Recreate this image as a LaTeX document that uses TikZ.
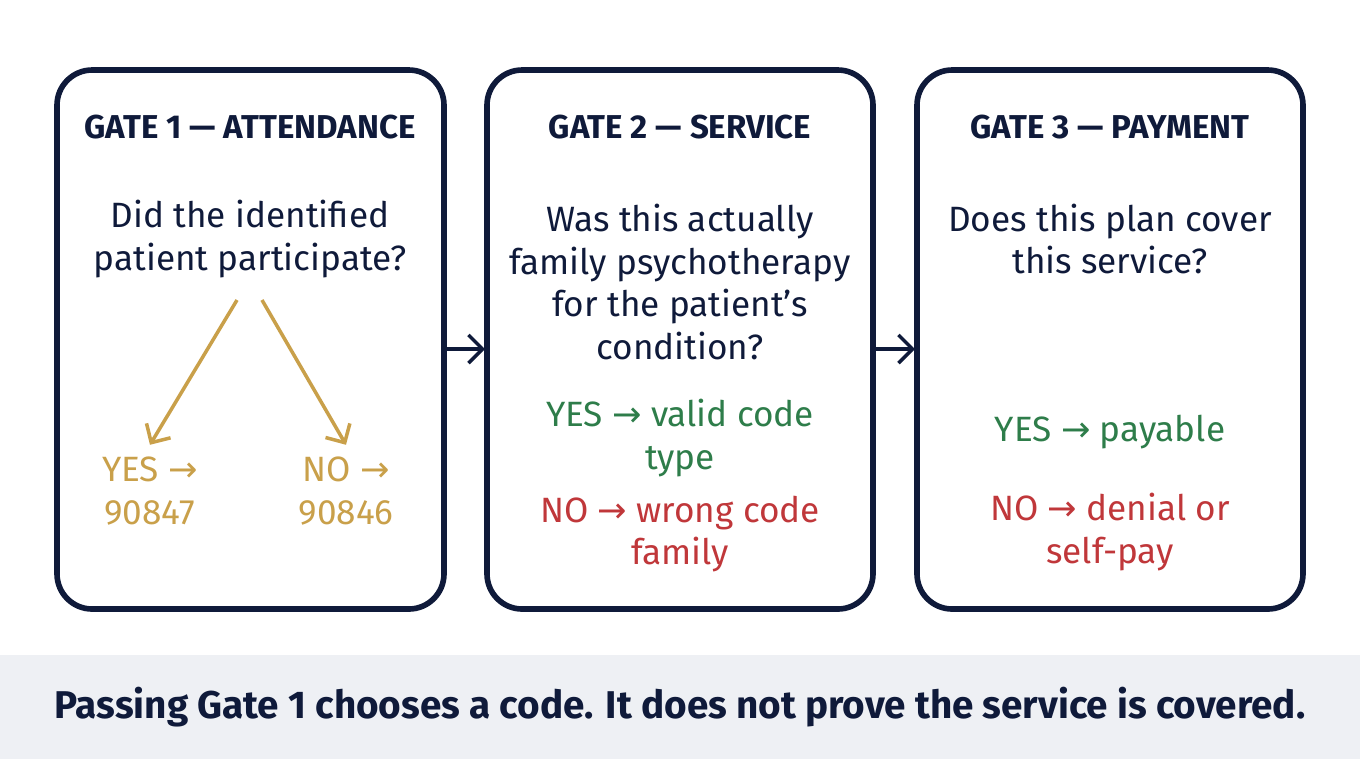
\documentclass[tikz,border=0pt]{standalone}
\usepackage{fontspec}
\setmainfont{Fira Sans}
\newfontfamily\arrowfont{DejaVu Sans}
\newcommand*{\toarrow}{{\arrowfont →}}
\usetikzlibrary{arrows.meta, positioning}
\definecolor{navy}{HTML}{0F1A3A}
\definecolor{gold}{HTML}{C9A04A}
\definecolor{okgreen}{HTML}{2E7D4A}
\definecolor{badred}{HTML}{C0373A}
\definecolor{band}{HTML}{EEF0F4}
\tikzstyle{gatebox} = [draw=navy, line width=1.6pt, rounded corners=10pt, fill=white]
\tikzstyle{title} = [font=\fontsize{9.4}{11}\selectfont\bfseries, text=navy]
\tikzstyle{question} = [font=\fontsize{10}{12.2}\selectfont, text=navy, align=center]
\tikzstyle{answer} = [font=\fontsize{10}{12}\selectfont, align=center]
\tikzstyle{path} = [-{Straight Barb[length=4pt]}, line width=1pt]

\begin{document}
\begin{tikzpicture}[x=0.01cm, y=-0.01cm]
    \useasboundingbox (0, 0) rectangle (1360, 759);

    % Background.
    \fill [white] (0, 0) rectangle (1360, 759);
    \fill [band] (0, 655) rectangle (1360, 759);

    % Gates.
    \draw [gatebox] (57, 70) rectangle (444, 609);
    \draw [gatebox] (487, 70) rectangle (873, 609);
    \draw [gatebox] (917, 70) rectangle (1303, 609);

    % Gate 1.
    \node (title one) [title] at (250, 127) {GATE 1 — ATTENDANCE};
    \node (question one) [question] at (250, 239) {Did the identified\\patient participate?};
    \coordinate (split left) at (237, 300);
    \coordinate (split right) at (262, 300);
    \node (yes one) [answer, text=gold] at (150, 491) {YES \toarrow\\90847};
    \node (no one) [answer, text=gold] at (346, 491) {NO \toarrow\\90846};
    \draw [path, gold] (split left) -- (yes one.north);
    \draw [path, gold] (split right) -- (no one.north);

    % Gate 2.
    \node (title two) [title] at (680, 127) {GATE 2 — SERVICE};
    \node (question two) [question] at (680, 282) {Was this actually\\family psychotherapy\\for the patient’s\\condition?};
    \node (yes two) [answer, text=okgreen] at (680, 438) {YES \toarrow{} valid code\\type};
    \node (no two) [answer, text=badred] at (680, 534) {NO \toarrow{} wrong code\\family};

    % Gate 3.
    \node (title three) [title] at (1110, 127) {GATE 3 — PAYMENT};
    \node (question three) [question] at (1110, 239) {Does this plan cover\\this service?};
    \node (yes three) [answer, text=okgreen] at (1110, 432) {YES \toarrow{} payable};
    \node (no three) [answer, text=badred] at (1110, 532) {NO \toarrow{} denial or\\self-pay};

    % Links.
    \coordinate (one east) at (444, 349);
    \coordinate (two west) at (485, 349);
    \coordinate (two east) at (873, 349);
    \coordinate (three west) at (915, 349);
    \draw [path, navy] (one east) -- (two west);
    \draw [path, navy] (two east) -- (three west);

    % Footer.
    \node (footer) [font=\fontsize{11}{13}\selectfont\bfseries, text=navy] at (680, 707)
        {Passing Gate 1 chooses a code. It does not prove the service is covered.};
\end{tikzpicture}
\end{document}
